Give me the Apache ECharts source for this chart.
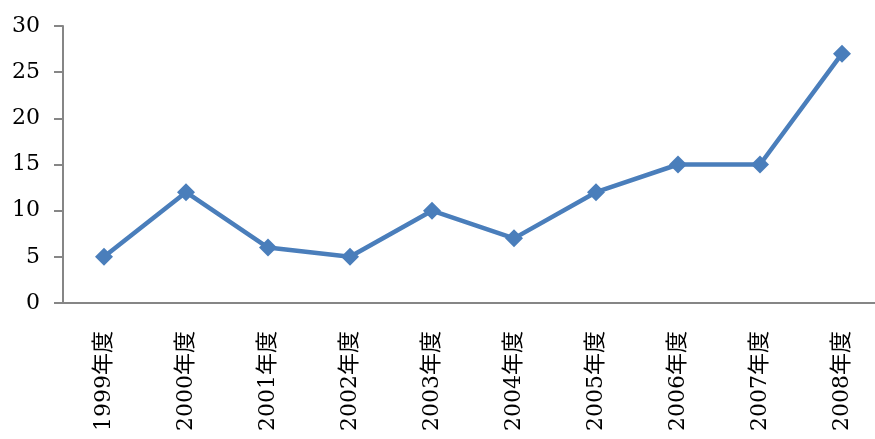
<!DOCTYPE html>
<html><head><meta charset="utf-8">
<script src="https://cdn.jsdelivr.net/npm/echarts@6/dist/echarts.min.js"></script>
<style>html,body{margin:0;padding:0;background:#fff}#c{width:875px;height:439px}</style>
</head><body><div id="c"></div>
<script>
const categories = ['1999年度','2000年度','2001年度','2002年度','2003年度','2004年度','2005年度','2006年度','2007年度','2008年度'];
const values = [5,12,6,5,10,7,12,15,15,27];
const yTicks = {min:0, max:30, interval:5};
const fontFam = '"DejaVu Serif","Noto Sans CJK JP",serif';
const chart = echarts.init(document.getElementById('c'), null, {renderer:'canvas'});
chart.setOption({
  animation:false,
  grid:{left:63, width:820, top:26, height:277, containLabel:false, outerBoundsMode:'none'},
  xAxis:{type:'category', data:categories, boundaryGap:true,
    axisLine:{lineStyle:{color:'#868686', width:2}},
    axisTick:{show:false},
    axisLabel:{rotate:90, margin:28, color:'#000', fontSize:22, fontFamily:fontFam, interval:0}},
  yAxis:{type:'value', min:yTicks.min, max:yTicks.max, interval:yTicks.interval,
    splitLine:{show:false},
    axisLine:{show:true, lineStyle:{color:'#868686', width:2}},
    axisTick:{show:true, length:9, lineStyle:{color:'#868686', width:2}},
    axisLabel:{margin:23, color:'#000', fontSize:22, fontFamily:fontFam}},
  series:[{type:'line', data:values, symbol:'diamond', symbolSize:18,
    lineStyle:{color:'#4A7EBB', width:4.5}, itemStyle:{color:'#4A7EBB'}}]
});
</script></body></html>
